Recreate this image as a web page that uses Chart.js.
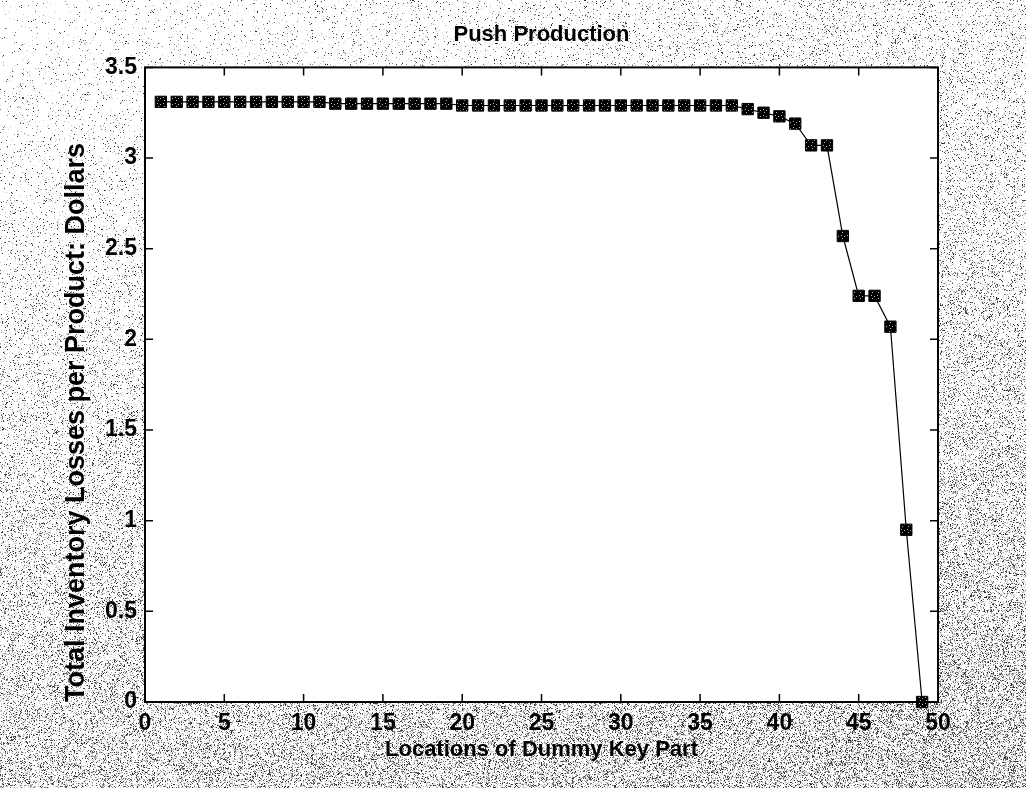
<!DOCTYPE html>
<html>
<head>
<meta charset="utf-8">
<script src="https://cdn.jsdelivr.net/npm/chart.js@4.4.1/dist/chart.umd.min.js"></script>
<style>
html, body { margin: 0; padding: 0; background: #fff; }
</style>
</head>
<body>
<canvas id="grafico" width="1026" height="788"></canvas>
<script>
// textos do grafico
const titulo = 'Push Production'
const tituloX = 'Locations of Dummy Key Part'
const tituloY = 'Total Inventory Losses per Product: Dollars'

// posicao da peca (eixo x) e perda por produto (eixo y)
const locais = [1, 2, 3, 4, 5, 6, 7, 8, 9, 10, 11, 12, 13, 14, 15, 16, 17, 18, 19, 20,
    21, 22, 23, 24, 25, 26, 27, 28, 29, 30, 31, 32, 33, 34, 35, 36, 37, 38, 39, 40,
    41, 42, 43, 44, 45, 46, 47, 48, 49]
const perdas = [3.31, 3.31, 3.31, 3.31, 3.31, 3.31, 3.31, 3.31, 3.31, 3.31, 3.31,
    3.30, 3.30, 3.30, 3.30, 3.30, 3.30, 3.30, 3.30,
    3.29, 3.29, 3.29, 3.29, 3.29, 3.29, 3.29, 3.29, 3.29, 3.29, 3.29, 3.29, 3.29, 3.29,
    3.29, 3.29, 3.29, 3.29,
    3.27, 3.25, 3.23, 3.19, 3.07, 3.07, 2.57, 2.24, 2.24, 2.07, 0.95, 0]

// limites e passos dos eixos
const limitesX = [0, 50]
const passoX = 5
const limitesY = [0, 3.5]
const passoY = 0.5

const fonte = '"Liberation Sans", Arial, sans-serif'

// gerador fixo (so para a textura do fundo escaneado)
var semente = 987654321
function sorteio() {
    semente = (Math.imul(semente, 1664525) + 1013904223) >>> 0
    return semente / 4294967296
}

// textura de fundo parecida com papel escaneado
function criaFundo(w, h) {
    const c = document.createElement('canvas')
    c.width = w
    c.height = h
    const g = c.getContext('2d')
    const img = g.createImageData(w, h)
    for (let y = 0; y < h; y++) {
        for (let x = 0; x < w; x++) {
            const p = 0.015 + 0.2 * Math.pow(y / h, 1.3) + 0.07 * (x / w)
            const i = (y * w + x) * 4
            let v = 255
            const r = sorteio()
            if (r < p) v = 30 + Math.floor(sorteio() * 140)
            else if (r < p * 1.6) v = 205
            img.data[i] = v
            img.data[i + 1] = v
            img.data[i + 2] = v
            img.data[i + 3] = 255
        }
    }
    g.putImageData(img, 0, 0)
    return c
}

// marcador preto com pontinhos brancos
function criaMarcador() {
    const c = document.createElement('canvas')
    c.width = 6
    c.height = 6
    const g = c.getContext('2d')
    g.fillStyle = '#000'
    g.fillRect(0, 0, 6, 6)
    g.fillStyle = '#bbb'
    g.fillRect(1, 1, 1, 1)
    g.fillRect(4, 2, 1, 1)
    g.fillRect(2, 4, 1, 1)
    return g.createPattern(c, 'repeat')
}

const fundo = criaFundo(1026, 788)

const pluginFundo = {
    id: 'fundo',
    beforeDraw(chart) {
        const { ctx, chartArea: a } = chart
        ctx.save()
        ctx.drawImage(fundo, 0, 0)
        ctx.fillStyle = '#fff'
        ctx.fillRect(a.left, a.top, a.width, a.height)
        ctx.restore()
    }
}

// moldura e tracinhos para dentro em todos os lados
const pluginMoldura = {
    id: 'moldura',
    afterDraw(chart) {
        const { ctx, chartArea: a, scales } = chart
        const t = 8
        ctx.save()
        ctx.strokeStyle = '#000'
        ctx.lineWidth = 1.5
        ctx.beginPath()
        scales.x.ticks.forEach(tk => {
            const px = scales.x.getPixelForValue(tk.value)
            ctx.moveTo(px, a.bottom); ctx.lineTo(px, a.bottom - t)
            ctx.moveTo(px, a.top); ctx.lineTo(px, a.top + t)
        })
        scales.y.ticks.forEach(tk => {
            const py = scales.y.getPixelForValue(tk.value)
            ctx.moveTo(a.left, py); ctx.lineTo(a.left + t, py)
            ctx.moveTo(a.right, py); ctx.lineTo(a.right - t, py)
        })
        ctx.stroke()
        ctx.lineWidth = 2
        ctx.strokeRect(a.left, a.top, a.width, a.height)
        ctx.restore()
    }
}

var grafico = new Chart(document.getElementById('grafico'), {
    type: 'line',
    data: {
        datasets: [{
            label: titulo,
            data: locais.map((x, i) => ({ x: x, y: perdas[i] })),
            borderColor: '#000',
            borderWidth: 1.2,
            tension: 0,
            fill: false,
            clip: false,
            pointStyle: 'rect',
            pointRadius: 8,
            pointBackgroundColor: criaMarcador(),
            pointBorderColor: '#000',
            pointBorderWidth: 1
        }]
    },
    options: {
        responsive: false,
        animation: false,
        layout: { padding: { left: 0, right: 88, top: 0, bottom: 0 } },
        plugins: {
            legend: { display: false },
            tooltip: { enabled: false },
            title: {
                display: true,
                text: titulo,
                fullSize: false,
                color: '#000',
                font: { family: fonte, size: 22, weight: 'bold' },
                padding: { top: 22, bottom: 19 }
            }
        },
        scales: {
            x: {
                type: 'linear',
                min: limitesX[0],
                max: limitesX[1],
                grid: { display: false, drawTicks: false },
                border: { display: false },
                ticks: {
                    stepSize: passoX,
                    color: '#000',
                    padding: 8,
                    maxRotation: 0,
                    font: { family: fonte, size: 23, weight: 'bold' }
                },
                title: {
                    display: true,
                    text: tituloX,
                    color: '#000',
                    font: { family: fonte, size: 22, weight: 'bold' },
                    padding: { top: 0, bottom: 25 }
                },
                afterFit(scale) { scale.height = 86 }
            },
            y: {
                min: limitesY[0],
                max: limitesY[1],
                grid: { display: false, drawTicks: false },
                border: { display: false },
                ticks: {
                    stepSize: passoY,
                    color: '#000',
                    padding: 8,
                    font: { family: fonte, size: 23, weight: 'bold' },
                    callback: v => String(v)
                },
                title: {
                    display: true,
                    text: tituloY,
                    color: '#000',
                    align: 'start',
                    font: { family: fonte, size: 27, weight: 'bold' },
                    padding: { top: 60, bottom: 0 }
                },
                afterFit(scale) { scale.width = 145 }
            }
        }
    },
    plugins: [pluginFundo, pluginMoldura]
})
</script>
</body>
</html>
